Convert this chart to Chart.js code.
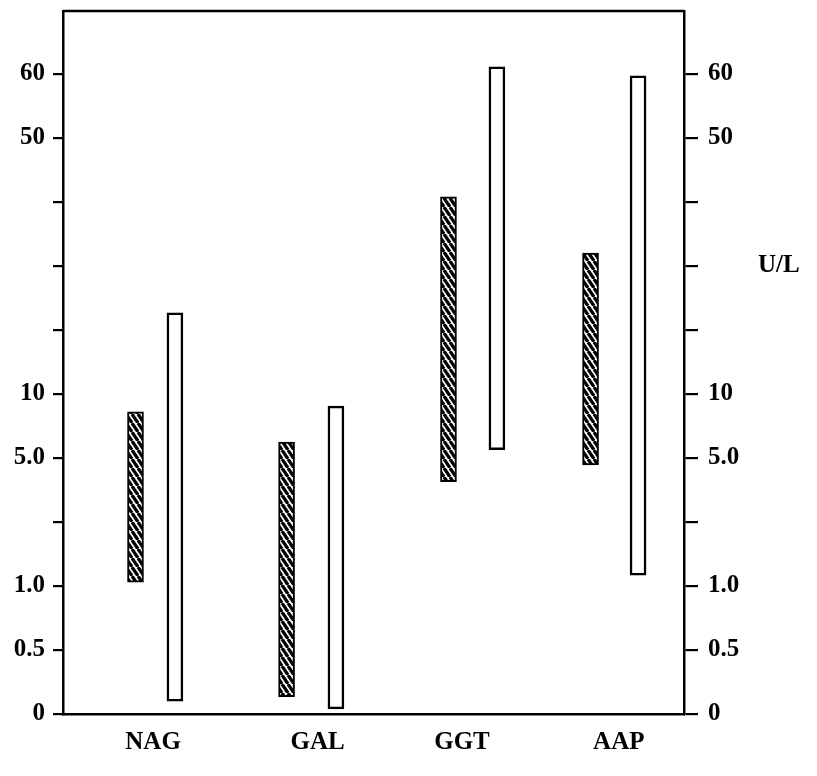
<!DOCTYPE html>
<html>
<head>
<meta charset="utf-8">
<script src="https://cdn.jsdelivr.net/npm/chart.js@4/dist/chart.umd.min.js"></script>
<style>
  html, body { margin: 0; padding: 0; background: #fff; }
  #wrap { width: 817px; height: 776px; }
</style>
</head>
<body>
<div id="wrap"><canvas id="grafico" width="817" height="776"></canvas></div>
<script>
// categorias e posicao de cada rotulo no eixo x
const categorias = ['NAG', 'GAL', 'GGT', 'AAP'];
const posCategorias = [0.58, 1.64, 2.57, 3.58];

// eixo y: escala em degraus (uma unidade por marca)
const marcasY = [0, 1, 2, 3, 4, 5, 6, 7, 8, 9, 10];
const rotulosY = ['0', '0.5', '1.0', '', '5.0', '10', '', '', '', '50', '60'];

// barras hachuradas (faixa inferior / superior)
const hachuradaX = [0.467, 1.440, 2.483, 3.398];
const hachuradaMin = [2.06, 0.27, 3.63, 3.89];
const hachuradaMax = [4.72, 4.25, 8.08, 7.20];

// barras vazadas
const abertaX = [0.721, 1.758, 2.795, 3.704];
const abertaMin = [0.20, 0.08, 4.13, 2.17];
const abertaMax = [6.27, 4.81, 10.11, 9.97];

const fonte = { family: '"Liberation Serif", "DejaVu Serif", serif', size: 25, weight: 'bold' };

// padrao de hachura diagonal (listras descendo para a direita)
function criaHachura() {
    const w = 6, h = 9;
    const c = document.createElement('canvas');
    c.width = w; c.height = h;
    const g = c.getContext('2d');
    g.fillStyle = '#fff';
    g.fillRect(0, 0, w, h);
    g.strokeStyle = '#000';
    g.lineWidth = 3.2;
    for (let k = -1; k <= 1; k++) {
        g.beginPath();
        g.moveTo(k * w, 0);
        g.lineTo(k * w + w, h);
        g.stroke();
    }
    return g.createPattern(c, 'repeat');
}

const ctx = document.getElementById('grafico');
const hachura = criaHachura();

const moldura = {
    id: 'moldura',
    afterDraw(chart) {
        const { ctx, chartArea } = chart;
        ctx.save();
        ctx.strokeStyle = '#000';
        ctx.lineWidth = 2.5;
        ctx.beginPath();
        ctx.moveTo(chartArea.left, chartArea.top);
        ctx.lineTo(chartArea.right, chartArea.top);
        ctx.stroke();
        // unidade ao lado do eixo direito
        const y = chart.scales.y2.getPixelForValue(7);
        ctx.fillStyle = '#000';
        ctx.font = 'bold 25px "Liberation Serif", serif';
        ctx.textAlign = 'left';
        ctx.textBaseline = 'middle';
        ctx.fillText('U/L', 758, y);
        ctx.restore();
    }
};

function eixoY(posicao, largura, tam) {
    return {
        type: 'linear',
        position: posicao,
        min: 0,
        max: 10.984,
        afterBuildTicks: s => { s.ticks = marcasY.map(v => ({ value: v })); },
        afterFit: s => { s.width = largura; s.paddingTop = 0; s.paddingBottom = 0; },
        grid: { drawOnChartArea: false, drawTicks: true, tickLength: tam, color: '#000', lineWidth: 2.2 },
        border: { display: true, color: '#000', width: 2.5 },
        ticks: {
            color: '#000',
            font: fonte,
            padding: posicao === 'left' ? 8 : 10,
            callback: (v, i) => rotulosY[i]
        }
    };
}

new Chart(ctx, {
    type: 'bar',
    data: {
        datasets: [
            {
                label: 'hachurada',
                data: hachuradaX.map((x, i) => ({ x: x, y: [hachuradaMin[i], hachuradaMax[i]] })),
                backgroundColor: hachura,
                borderColor: '#000',
                borderWidth: 2,
                borderSkipped: false,
                barThickness: 16,
                grouped: false
            },
            {
                label: 'aberta',
                data: abertaX.map((x, i) => ({ x: x, y: [abertaMin[i], abertaMax[i]] })),
                backgroundColor: '#fff',
                borderColor: '#000',
                borderWidth: 2.5,
                borderSkipped: false,
                barThickness: 16,
                grouped: false
            }
        ]
    },
    options: {
        responsive: false,
        animation: false,
        layout: { padding: { top: 11, left: 0, right: 0, bottom: 0 } },
        plugins: { legend: { display: false }, tooltip: { enabled: false } },
        scales: {
            x: {
                type: 'linear',
                min: 0,
                max: 4,
                offset: false,
                afterBuildTicks: s => { s.ticks = posCategorias.map(v => ({ value: v })); },
                afterFit: s => { s.height = 62; s.paddingLeft = 0; s.paddingRight = 0; },
                grid: { display: false, drawTicks: false, offset: false },
                border: { display: true, color: '#000', width: 2.5 },
                ticks: {
                    color: '#000',
                    font: fonte,
                    padding: 14,
                    maxRotation: 0,
                    callback: (v, i) => categorias[i]
                }
            },
            y: eixoY('left', 63, 10),
            y2: eixoY('right', 133, 14)
        }
    },
    plugins: [moldura]
});
</script>
</body>
</html>
